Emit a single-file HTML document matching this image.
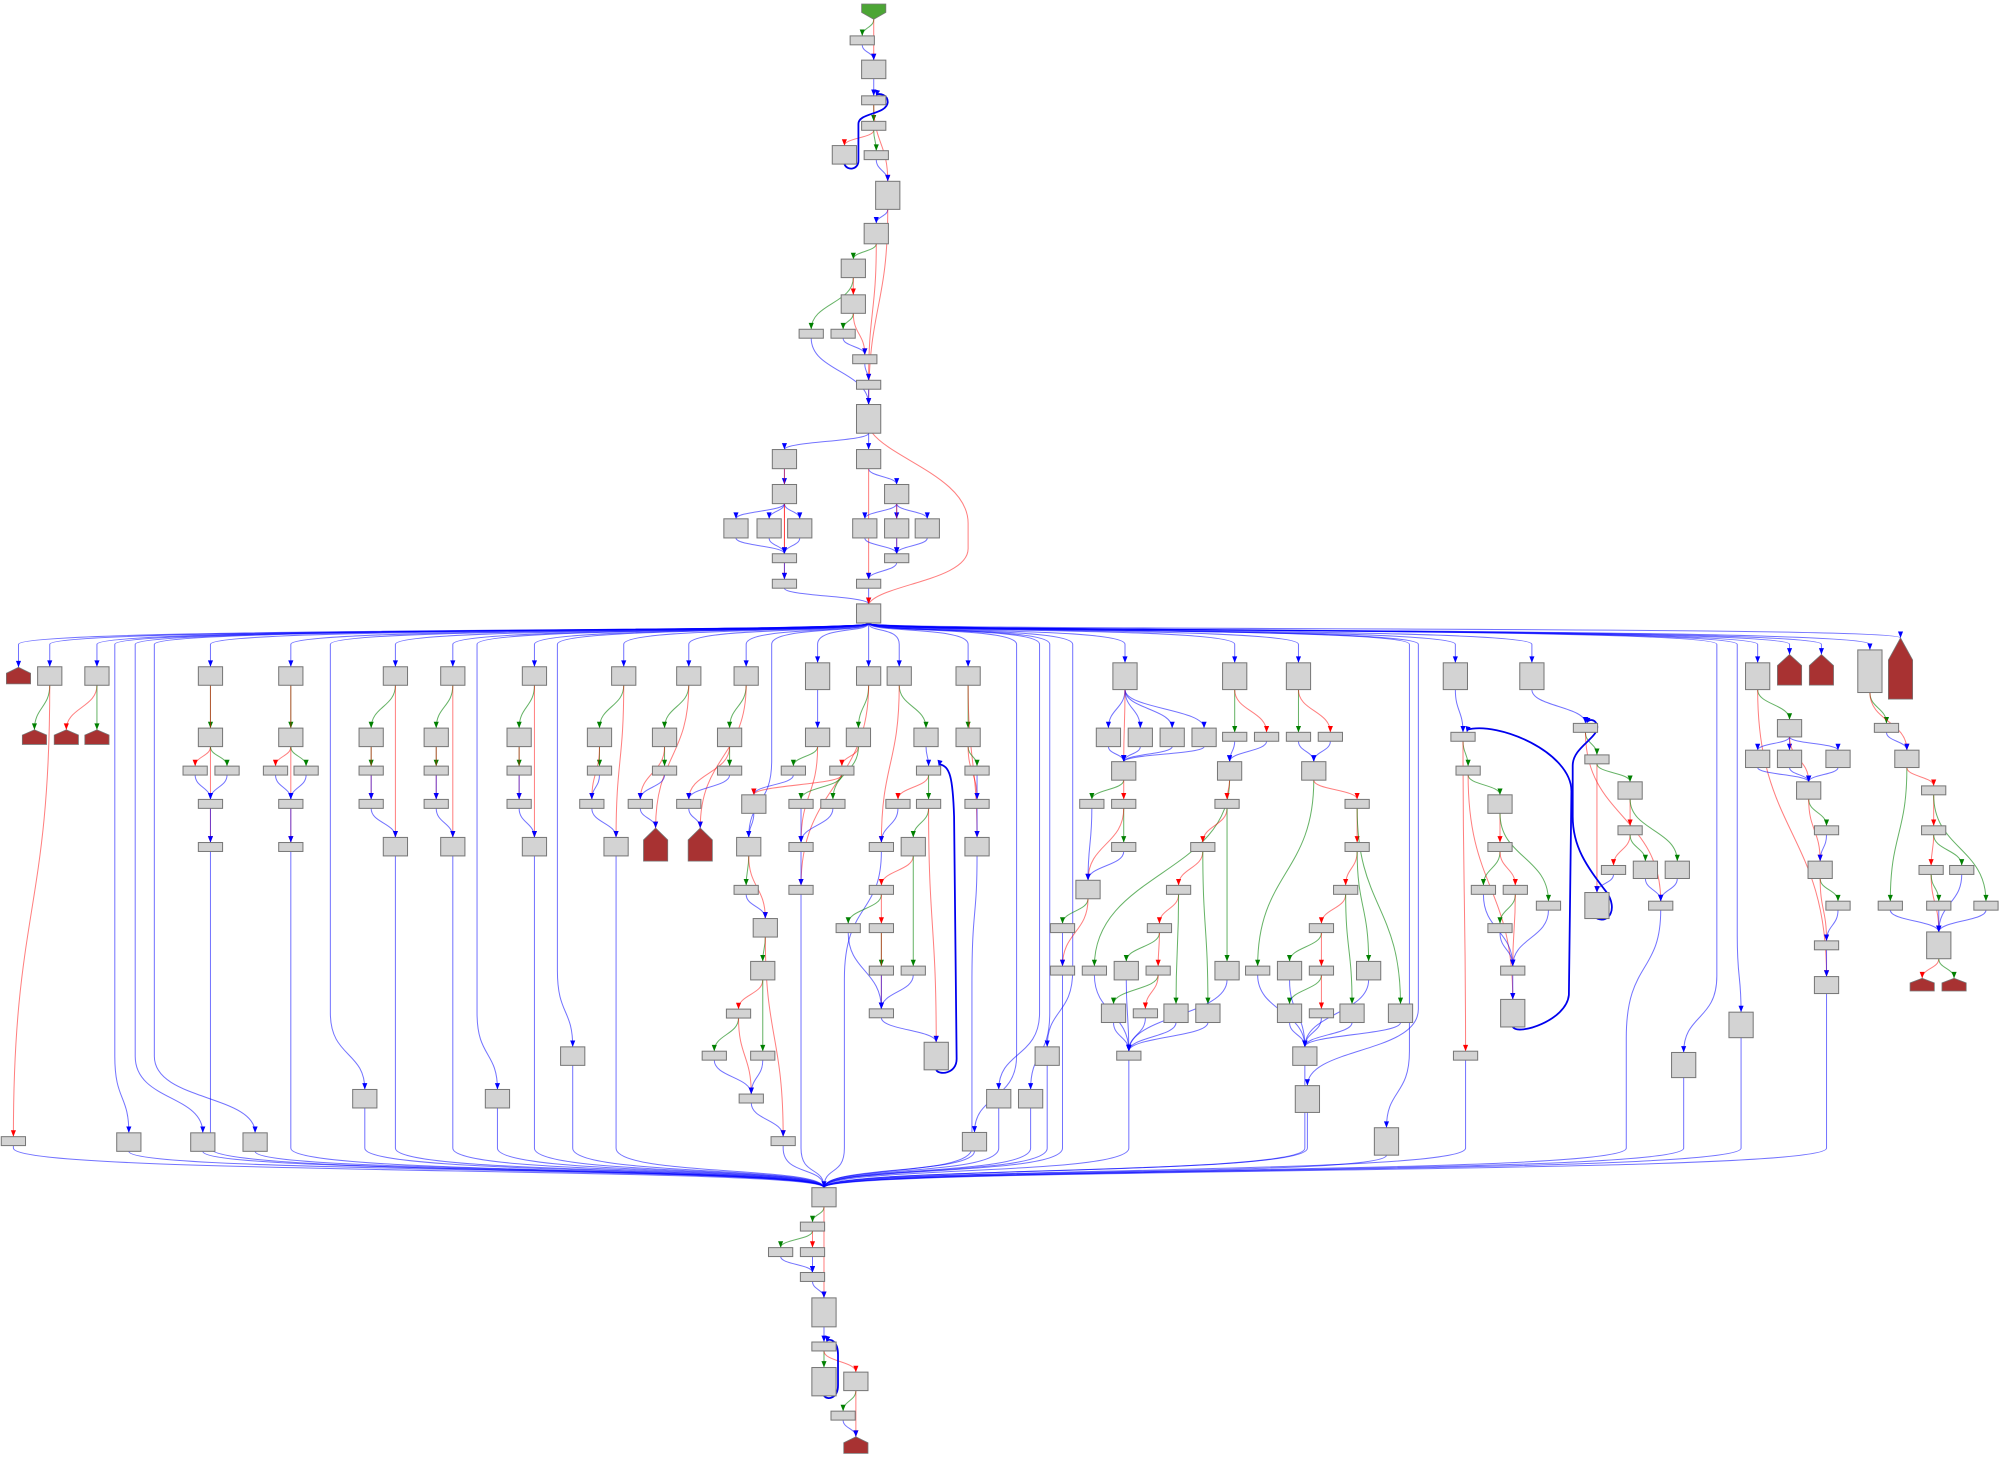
<!DOCTYPE html>
<html><head><meta charset="utf-8"><style>html,body{margin:0;padding:0;background:#fff}svg{display:block}</style></head>
<body>
<svg id="g" xmlns="http://www.w3.org/2000/svg" width="2000" height="1457" viewBox="0 0 1568 1142"></svg>
<script>
var N={};
function S(id,cx,top){N[id]={cx:cx,top:top,h:7,k:'r'};}
function B(id,cx,top,h){N[id]={cx:cx,top:top,h:h||14.5,k:'r'};}
function T(id,cx,top,h){N[id]={cx:cx,top:top,h:h||21,k:'r'};}
function Hs(id,cx,top,h){N[id]={cx:cx,top:top,h:h,k:'h'};}
N.P0={cx:685,top:3,h:12,k:'p'};
S('a1',676,28);B('a2',685,47);S('a3',685,75);S('a4',685,95);B('a5',662,114);S('a6',687,118);T('a7',696,142,22);B('a8',687,175,16);B('a9',669,203);B('a10',669,231);S('a11',636,258);S('a12',661,258);S('a13',678,278);S('a14',681,298);T('a15',681,317,22.5);
B('L1',615,352.3,15);B('L2',615,379.7,15);B('L3',577,406.6,15);B('L4',603,406.6,15);B('L5',627,406.6,15);S('L6',615,434);S('L7',615,454);
B('R1',681,352.3,15);B('R2',703,379.7,15);B('R3',678,406.6,15);B('R4',703,406.6,15);B('R5',727,406.6,15);S('R6',703,434);S('R7',681,454);
B('H',681,473.3,15);
var RT=522.6,TT=519.5;
Hs('H2',14.5,523,13);
['39','76','165','228','310','355','419','489','540','585','681','705','759'].forEach(function(x){B('r'+x,+x,RT);});
['641','882','968','1018','1141','1201','1378'].forEach(function(x){T('r'+x,+x,TT);});
Hs('hs1403',1403,513,24);Hs('hs1428',1428,513,24);T('r1466',1466,509.4,33.4);Hs('hs1490',1490,500,48);
Hs('hs27',27,572,11.5);Hs('hs52',52,572,11.5);Hs('hs76',76,572,11.5);S('s10',10.5,891);
B('b165',165,570.7);S('s153',153,600.5);S('s178',178,600.5);S('s165a',165,626.6);S('s165b',165,660.4);
B('b228',228,570.7);S('s216',216,600.5);S('s240',240,600.5);S('s228a',228,626.6);S('s228b',228,660.4);
B('b291',291,570.7);S('s291a',291,600.5);S('s291b',291,626.6);B('B310',310,656.4);
B('b342',342,570.7);S('s342a',342,600.5);S('s342b',342,626.6);B('B355',355,656.4);
B('b407',407,570.7);S('s407a',407,600.5);S('s407b',407,626.6);B('B419',419,656.4);
B('b470',470,570.7);S('s470',470,600.5);S('s464',464,626.6);B('B483',483,656.4);
B('b521',521,570.7);S('s521',521,600.5);S('s502',502,626.6);Hs('hs514',514,649,26);
B('b572',572,570.7);S('s572',572,600.5);S('s540',540,626.6);Hs('hs549',549,649,26);
B('X101',101,888);B('X159',159,888);B('X200',200,888);B('X286',286,854);B('X390',390,854);B('X449',449,820.6);
B('b641',641,570.7);S('s622',622,600.5);B('b591',591,623);B('b587',587,656.4);S('s585',585,694);B('b600',600,720);B('b598',598,753.6);S('s579',579,791);S('s560',560,824);S('s598',598,824);S('s589',589,857.6);S('s614',614,891);
B('b673',673,570.7);S('s660',660,600.5);S('s628a',628,626.6);S('s653',653,626.6);S('s628b',628,660.4);S('s628c',628,694);
B('b726',726,570.7);S('s728a',728,600.5);S('s704',704,626.6);S('s728b',728,626.6);S('s691a',691,660.4);B('b716',716,656.4);S('s691b',691,694);S('s665',665,724);S('s691c',691,724);S('s691d',691,757.3);S('s716',716,757.3);S('s691e',691,790.8);T('L734',734,817,21.6);
B('b759',759,570.7);S('s766a',766,600.5);S('s766b',766,626.6);B('B766',766,656.4);
B('X764',764,887.7);B('X783',783,854);B('X808',808,854);B('X821',821,820.6);
['869','894','919','944'].forEach(function(x){B('b'+x,+x,570.7);});
B('b881',881,597);S('s856',856,626.6);S('s881a',881,626.6);S('s881b',881,660.4);B('B853',853,690);S('s833a',833,724);S('s833b',833,757.3);
S('s968',968,574);S('s993',993,574);B('b964',964,597);S('s962',962,626.6);S('s943',943,660.4);S('s924',924,694);S('s909',909,724);S('s858',858,757.3);B('B883',883,753.6);S('s908',908,757.3);B('B962',962,753.6);B('B873',873,787);S('s898',898,790.8);B('B922',922,787);B('B947',947,787);S('s885',885,824);
S('s1018',1018,574);S('s1043',1043,574);B('b1030',1030,597);S('s1064a',1064,626.6);S('s1064b',1064,660.4);S('s1055',1055,694);S('s1036a',1036,724);S('s986',986,757.3);B('B1011a',1011,753.6);S('s1036b',1036,757.3);B('B1073',1073,753.6);B('B1011b',1011,787);S('s1036c',1036,790.8);B('B1060',1060,787);B('B1098',1098,787);B('B1023',1023,820.6);T('X1025',1025,851);T('X1087',1087,884,21.5);
S('s1147',1147,574);S('s1151',1151,600.5);B('B1176',1176,623);S('s1176a',1176,660.4);S('s1163',1163,694);S('s1188',1188,694);S('s1176b',1176,724);S('s1214',1214,706.4);S('s1186',1186,757.3);T('L1186',1186,783.4,21.6);S('s1149',1149,824);
S('s1243',1243,567);S('s1252',1252,591.7);B('B1278',1278,612.8,13.6);S('s1278',1278,647.3);S('s1265',1265,678.4);B('B1290',1290,675,13.6);B('B1315',1315,675,13.6);T('L1252',1252,699.6,20.4);S('s1302',1302,706.4);T('X1320',1320,825,19.7);T('X1365',1365,793.4,20);
B('B1403',1403,564,13.6);B('B1378',1378,588,13.6);B('B1403b',1403,588,13.6);B('B1441',1441,588,13.6);B('B1418',1418,612.8,13.6);S('s1432a',1432,647.3);B('B1427',1427,675,13.6);S('s1441',1441,706.4);S('s1432b',1432,737.5);B('B1432',1432,765.5,13.3);
S('s1479',1479,567);B('B1495',1495,588,13.6);S('s1516a',1516,616);S('s1516b',1516,647.3);S('s1514',1514,678.4);S('s1538',1538,678.4);S('s1482',1482,706.4);S('s1520',1520,706.4);S('s1557',1557,706.4);T('B1520',1520,730.5,21);Hs('hs1507',1507,766.8,10);Hs('hs1532',1532,766.8,10);
B('HB',646,931,15);S('c636a',637,958);S('c611',612,978);S('c636b',637,978);S('c636c',637,997.5);T('C645',646,1017.4,22.7);S('c645',646,1052);T('C645t',646,1072,22.2);B('C670',671,1075.6,14.5);S('c661',661,1106.2);Hs('hs670',671,1126.3,13);

var E=[];
function e(s){s.split(';').forEach(function(t){t=t.trim();if(!t)return;var p=t.split(/\s+/);var c=p[2];p[0].split(',').forEach(function(a){p[1].split(',').forEach(function(b){E.push([a,b,c]);});});});}
e('P0 a1 g;P0 a2 r;a1 a2 b;a2 a3 b;a3 a4 g;a3 a7 r;a4 a5 r;a4 a6 g;a6 a7 b;a7 a8 b;a7 a15 r;a8 a9 g;a8 a14 r;a9 a11 g;a9 a10 r;a10 a12 g;a10 a13 r;a12 a13 b;a13 a14 b;a11 a15 b;a14 a15 b');
e('a15 L1,R1 b;L1 L2 b;L1 L7 r;L2 L3,L4,L5 b;L2 L6 r;L3,L4,L5 L6 b;L6 L7 b;L7 H b;R1 R2 b;R1 R7 r;R2 R3,R4,R5 b;R2 R6 r;R3,R4,R5 R6 b;R6 R7 b;R7 H b');
e('r39 hs27 g;r39 s10 r;r76 hs52 r;r76 hs76 g');
e('r165 b165 g;r165 s165b r;b165 s153 r;b165 s178 g;s153,s178 s165a b;s165a s165b b');
e('r228 b228 g;r228 s228b r;b228 s216 r;b228 s240 g;s216,s240 s228a b;s228a s228b b');
e('r310 b291 g;r310 B310 r;b291 s291a g;b291 s291b r;s291a s291b b;s291b B310 b');
e('r355 b342 g;r355 B355 r;b342 s342a g;b342 s342b r;s342a s342b b;s342b B355 b');
e('r419 b407 g;r419 B419 r;b407 s407a g;b407 s407b r;s407a s407b b;s407b B419 b');
e('r489 b470 g;r489 B483 r;b470 s470 g;b470 s464 r;s470 s464 b;s464 B483 b');
e('r540 b521 g;r540 hs514 r;b521 s521 g;b521 s502 r;s521 s502 b;s502 hs514 b');
e('r585 b572 g;r585 hs549 r;b572 s572 g;b572 s540 r;s572 s540 b;s540 hs549 b');
e('r641 b641 b;b641 s622 g;b641 s628b r;s622 b591 b;b591 b587 b;b587 s585 g;b587 b600 r;s585 b600 b;b600 b598 g;b600 s614 r;b598 s579 r;b598 s598 g;s579 s560 g;s579 s589 r;s560,s598 s589 b;s589 s614 b');
e('r681 b673 g;r681 s628c r;b673 s660 r;b673 s653 g;s660 s628a g;s660 b591 r;s628a,s653 s628b b;s628b s628c b');
e('r705 b726 g;r705 s691a r;b726 s728a b;s728a s704 r;s728a s728b g;s704 s691a b;s728b b716 g;s728b L734 r;b716 s691b r;b716 s716 g;s691b s665 g;s691b s691c r;s691c s691d g;s691c s691e r;s665,s691d,s716 s691e b;s691e L734 b');
e('r759 b759 g;r759 B766 r;b759 s766a g;b759 s766b r;s766a s766b b;s766b B766 b');
e('r882 b869,b894,b919,b944 b;r882 b881 r;b869,b894,b919,b944 b881 b;b881 s856 g;b881 s881a r;s881a s881b g;s881a B853 r;s856,s881b B853 b;B853 s833a g;B853 s833b r;s833a s833b b');
e('r968 s968 g;r968 s993 r;s968,s993 b964 b;b964 s858 g;b964 s962 r;s962 s943 r;s962 B962 g;s943 s924 r;s943 B947 g;s924 s909 r;s924 B922 g;s909 B883 g;s909 s908 r;s908 B873 g;s908 s898 r;s858,B883,B873,s898,B922,B947,B962 s885 b');
e('r1018 s1018 g;r1018 s1043 r;s1018,s1043 b1030 b;b1030 s986 g;b1030 s1064a r;s1064a s1064b r;s1064a B1098 g;s1064b s1055 r;s1064b B1073 g;s1055 s1036a r;s1055 B1060 g;s1036a B1011a g;s1036a s1036b r;s1036b B1011b g;s1036b s1036c r;s986,B1011a,B1011b,s1036c,B1060,B1073,B1098 B1023 b');
e('r1141 s1147 b;s1147 s1151 g;s1147 s1149 r;s1151 B1176 g;s1151 L1186 r;B1176 s1176a r;B1176 s1214 g;s1176a s1163 g;s1176a s1188 r;s1188 s1176b g;s1188 s1186 r;s1163,s1176b,s1214 s1186 b;s1186 L1186 b');
e('r1201 s1243 b;s1243 s1252 g;s1243 s1302 r;s1252 L1252 r;s1252 B1278 g;B1278 s1278 r;B1278 B1315 g;s1278 s1265 r;s1278 B1290 g;s1265 L1252 b;B1290,B1315 s1302 b');
e('r1378 B1403 g;r1378 B1432 r;B1403 B1378,B1403b,B1441 b;B1403 B1418 r;B1378,B1403b,B1441 B1418 b;B1418 s1432a g;B1418 B1427 r;s1432a B1427 b;B1427 s1441 g;B1427 s1432b r;s1441 s1432b b;s1432b B1432 b');
e('r1466 s1479 g;r1466 B1495 r;s1479 B1495 b;B1495 s1482 g;B1495 s1516a r;s1516a s1516b r;s1516a s1557 g;s1516b s1514 r;s1516b s1538 g;s1514 B1520 r;s1514 s1520 g;s1538,s1482,s1520,s1557 B1520 b;B1520 hs1507 r;B1520 hs1532 g');
e('HB c636a g;HB C645 r;c636a c611 g;c636a c636b r;c611,c636b c636c b;c636c C645 b;C645 c645 b;c645 C645t g;c645 C670 r;C670 c661 g;C670 hs670 r;c661 hs670 b');
var HT=['H2','r39','r76','r165','r228','r310','r355','r419','r489','r540','r585','r641','r681','r705','r759','r882','r968','r1018','r1141','r1201','r1378','hs1403','hs1428','r1466','hs1490','X101','X159','X200','X286','X390','X449','b587','X764','X783','X808','X821','X1025','X1087','X1320','X1365'];
var WP={X101:90,X159:106,X200:121,X286:259,X390:374,X449:437,b587:605,X764:797,X783:815,X808:823,X821:841,X1025:1112,X1087:1105,X1320:1346,X1365:1362};
var HBI=['s10','X101','X159','X200','s165b','s228b','X286','B310','B355','X390','B419','X449','B483','s614','s628c','s691a','X764','B766','X783','X808','X821','s833b','s885','B1023','X1025','X1087','s1149','s1302','X1320','X1365','B1432'];
var WB={s691a:662,s1302:1275,B766:762,s885:885};
var COL={b:'rgba(0,0,255,0.55)',r:'rgba(255,0,0,0.5)',g:'rgba(0,128,0,0.6)'};
var AC={b:'#0000ff',r:'#ff0000',g:'#008000'};
var out=[];
function arrow(x,y,c){out.push('<path d="M'+(x-2)+','+(y-5)+'L'+(x+2)+','+(y-5)+'L'+x+','+y+'Z" fill="'+AC[c]+'"/>');}
function path(d,c,w){out.push('<path d="'+d+'" fill="none" stroke="'+(c.charAt(0)=='#'?c:COL[c])+'" stroke-width="'+(w||0.8)+'"/>');}
HT.forEach(function(t){var n=N[t];var tx=n.cx,ty=n.top;var d;var wx=WP[t];
 if(wx!==undefined){d='M681,488.5C681,496 '+wx+',491 '+wx+',505L'+wx+','+(ty-60)+'C'+wx+','+(ty-25)+' '+tx+','+(ty-30)+' '+tx+','+ty;}
 else if(ty<507){d='M681,488.5C681,495 '+tx+',490 '+tx+','+ty;}
 else{d='M681,488.5C681,496 '+tx+',491 '+tx+',505L'+tx+','+ty;}
 path(d,'b');arrow(tx,ty,'b');});
HBI.forEach(function(s){var n=N[s];var sx=n.cx,sy=n.top+n.h;var d='M'+sx+','+sy;var wx=WB[s];
 if(wx!==undefined&&wx!==sx){d+='C'+sx+','+(sy+50)+' '+wx+','+(sy+40)+' '+wx+','+(sy+100);sx=wx;sy=sy+100;}
 if(sy<900){d+='L'+sx+',900C'+sx+',922 646,914 646,931';}else{d+='C'+sx+','+(sy+18)+' 646,914 646,931';}
 path(d,'b');});
arrow(646,931,'b');
E.forEach(function(ed){var s=N[ed[0]],t=N[ed[1]];var sx=s.cx,sy=s.top+s.h,tx=t.cx,ty=t.top;var dy=(ty-sy)/2;
 var d='M'+sx+','+sy+'C'+sx+','+(sy+dy)+' '+tx+','+(ty-dy)+' '+tx+','+ty;
 path(d,ed[2]);arrow(tx,ty,ed[2]);});
path('M684,339.5C700,360 759,375 759,410L759,430C759,455 690,458 681,473.3','r');arrow(681,473.3,'r');
var LP=['M662,128.5C664,134 673,133 673,126L673,97C673,88 695,90 696,80C696,74 690,73 687,74',
'M734,838.6C736,843 750,842 750,830L748,640C747,610 745,600 736,599',
'M1186,805C1190,812 1228,800 1230,780L1232,620C1232,590 1175,565 1150,572',
'M1252,720C1262,724 1268,712 1260,700C1245,680 1233,665 1233,640L1233,600C1233,585 1255,578 1252,568C1250,563 1246,564 1244,566',
'M646,1094.2C649,1098 657,1096 657,1086L657,1062C657,1051 651,1049 648,1051'];
LP.forEach(function(d){path(d,'#0000ee',1.4);});
[[687,75],[736,600.5],[1150,574],[1244,567],[648,1052]].forEach(function(p){out.push('<path d="M'+(p[0]-1)+','+(p[1]-5)+'L'+(p[0]+3)+','+(p[1]-4)+'L'+p[0]+','+p[1]+'Z" fill="#0000ff"/>');});
Object.keys(N).forEach(function(id){var n=N[id];var w=19,x0=n.cx-w/2,x1=n.cx+w/2,t=n.top,h=n.h;
 if(n.k=='r'){out.push('<rect x="'+x0+'" y="'+t+'" width="'+w+'" height="'+h+'" fill="#d3d3d3" stroke="#777" stroke-width="0.8"/>');}
 else if(n.k=='h'){var pk=h*0.36;out.push('<polygon points="'+x0+','+(t+pk)+' '+n.cx+','+t+' '+x1+','+(t+pk)+' '+x1+','+(t+h)+' '+x0+','+(t+h)+'" fill="#a83232" stroke="#777" stroke-width="0.6"/>');}
 else {out.push('<polygon points="'+x0+','+t+' '+x1+','+t+' '+x1+','+(t+h*0.55)+' '+n.cx+','+(t+h)+' '+x0+','+(t+h*0.55)+'" fill="#4ca535" stroke="#777" stroke-width="0.6"/>');}
});
document.getElementById('g').innerHTML=out.join('');
</script>
</body></html>
